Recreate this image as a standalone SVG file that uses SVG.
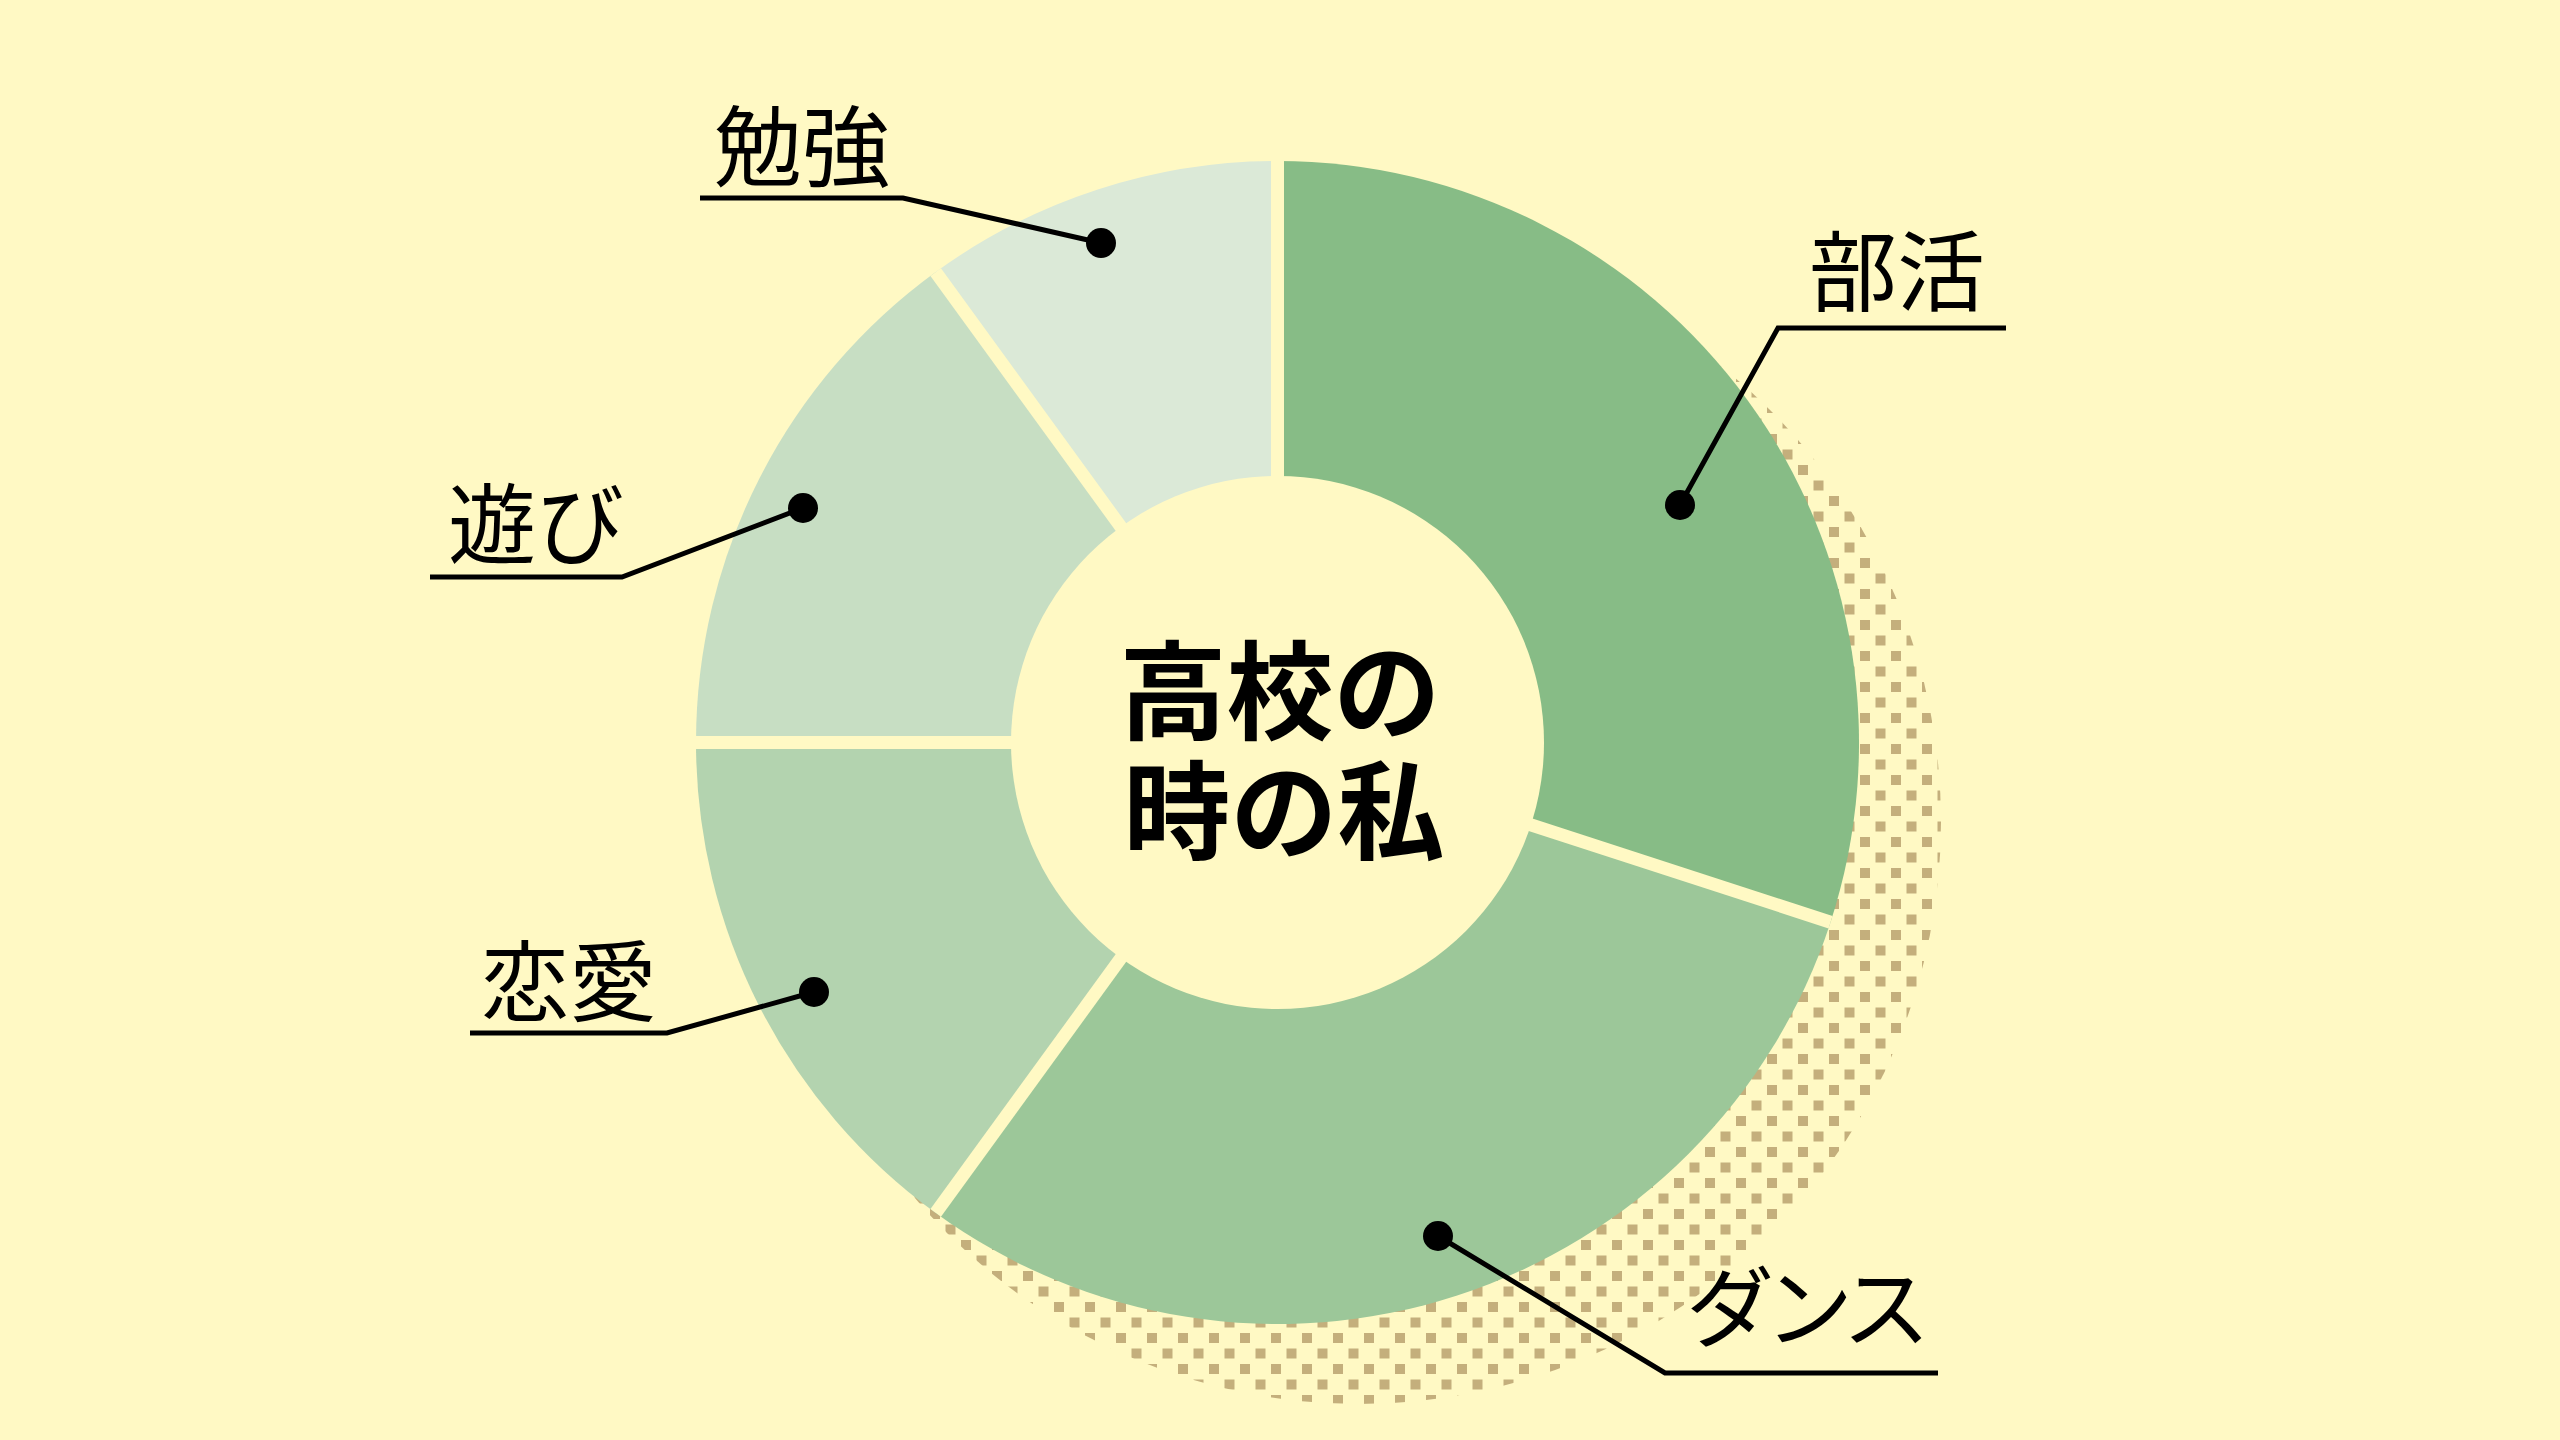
<svg xmlns="http://www.w3.org/2000/svg" width="2560" height="1440" viewBox="0 0 2560 1440">
  <style>
    .lbl { font-family: "Noto Sans CJK JP", "Noto Sans CJK SC", sans-serif; font-size: 88px; fill: #000; }
    .title { font-family: "Noto Sans CJK JP", "Noto Sans CJK SC", sans-serif; font-size: 107px; font-weight: 700; fill: #000; text-anchor: middle; }
    .gap { stroke: #FFF9C4; stroke-width: 13; }
    .conn { fill: none; stroke: #000; stroke-width: 5; }
    .dot { fill: #000; }
  </style>
  <defs>
    <pattern id="halftone" patternUnits="userSpaceOnUse" width="31" height="31" x="0" y="0">
      <rect x="0" y="0" width="10" height="10" fill="#C4AF7C"/>
      <rect x="15.5" y="15.5" width="10" height="10" fill="#C4AF7C"/>
    </pattern>
  </defs>
  <rect width="2560" height="1440" fill="#FFF9C4"/>
  <g id="shadow">
    <circle cx="1359" cy="822" r="582" fill="url(#halftone)"/>
  </g>
  <g id="segments">
    <path id="seg-bukatsu" d="M1277.5,742.5 L1277.5,161 A581.5,581.5 0 0 1 1830.54,922.2 Z" fill="#87BC86"/>
    <path id="seg-dance" d="M1277.5,742.5 L1830.54,922.2 A581.5,581.5 0 0 1 935.7,1212.94 Z" fill="#9CC799"/>
    <path id="seg-renai" d="M1277.5,742.5 L935.7,1212.94 A581.5,581.5 0 0 1 696,742.5 Z" fill="#B3D3AF"/>
    <path id="seg-asobi" d="M1277.5,742.5 L696,742.5 A581.5,581.5 0 0 1 935.7,272.06 Z" fill="#C7DEC3"/>
    <path id="seg-benkyo" d="M1277.5,742.5 L935.7,272.06 A581.5,581.5 0 0 1 1277.5,161 Z" fill="#DBE9D7"/>
    <line class="gap" x1="1277.5" y1="742.5" x2="1277.5" y2="161"/>
    <line class="gap" x1="1277.5" y1="742.5" x2="1830.54" y2="922.2"/>
    <line class="gap" x1="1277.5" y1="742.5" x2="935.7" y2="1212.94"/>
    <line class="gap" x1="1277.5" y1="742.5" x2="696" y2="742.5"/>
    <line class="gap" x1="1277.5" y1="742.5" x2="935.7" y2="272.06"/>
    <circle cx="1277.5" cy="742.5" r="266.5" fill="#FFF9C4"/>
  </g>
  <g id="center-title">
    <text class="title"><tspan x="1280" y="731">高校の</tspan><tspan x="1284" y="851">時の私</tspan></text>
  </g>
  <g id="connectors">
    <polyline class="conn" points="700,198 903,198 1101,243"/>
    <polyline class="conn" points="430,577 622,577 803,508"/>
    <polyline class="conn" points="470,1033 667,1033 814,992"/>
    <polyline class="conn" points="2006,328 1778,328 1680,505"/>
    <polyline class="conn" points="1938,1373 1665,1373 1438,1236"/>
  </g>
  <g id="node-benkyo">
    <circle class="dot" cx="1101" cy="243" r="15"/>
    <text class="lbl" x="714" y="179">勉強</text>
  </g>
  <g id="node-asobi">
    <circle class="dot" cx="803" cy="508" r="15"/>
    <text class="lbl" x="448" y="557">遊び</text>
  </g>
  <g id="node-renai">
    <circle class="dot" cx="814" cy="992" r="15"/>
    <text class="lbl" x="481" y="1014">恋愛</text>
  </g>
  <g id="node-bukatsu">
    <circle class="dot" cx="1680" cy="505" r="15"/>
    <text class="lbl" x="1809" y="304">部活</text>
  </g>
  <g id="node-dance">
    <circle class="dot" cx="1438" cy="1236" r="15"/>
    <text class="lbl" x="1686" y="1340" letter-spacing="-9">ダンス</text>
  </g>
</svg>
